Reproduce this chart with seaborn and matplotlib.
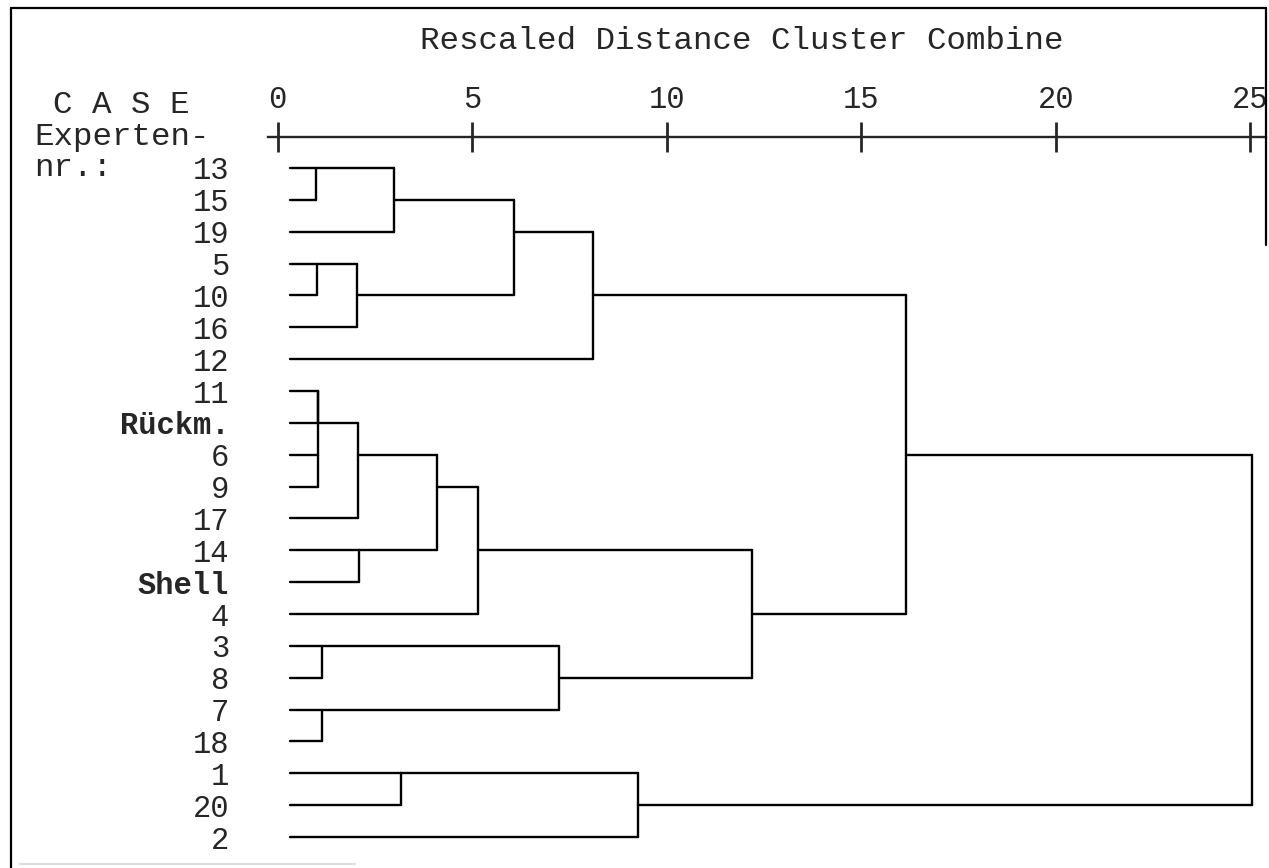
import numpy as np
import pandas as pd
import matplotlib
matplotlib.use("Agg")
import matplotlib.pyplot as plt
from matplotlib.lines import Line2D
import seaborn as sns

# Case labels, top to bottom (as in the SPSS dendrogram)
labels = ["13", "15", "19", "5", "10", "16", "12", "11", "Rückm.", "6", "9",
          "17", "14", "Shell", "4", "3", "8", "7", "18", "1", "20", "2"]
bold_labels = ["Rückm.", "Shell"]

# Agglomeration schedule: node ids 0..21 are cases, new clusters get 22, 23, ...
merge_left = [0, 3, 7, 9, 24, 15, 17, 23, 26, 12, 22, 19, 30, 34, 32, 27, 36, 33, 35, 38, 41]
merge_right = [1, 4, 8, 10, 25, 16, 18, 5, 11, 13, 2, 20, 31, 14, 29, 28, 6, 21, 37, 40, 39]
merge_dist = [0.99, 1.02, 1.04, 1.04, 1.04, 1.15, 1.15, 2.04, 2.07, 2.09, 2.99,
              3.18, 4.09, 5.14, 6.07, 7.22, 8.11, 9.27, 12.2, 16.16, 25.05]
leaf_start = 0.33

dist_ticks = [0, 5, 10, 15, 20, 25]

# build the dendrogram segments (SPSS style rows)
node_x = {i: leaf_start for i in range(len(labels))}
node_row = {i: i for i in range(len(labels))}
segs = []
for k, (a, b, d) in enumerate(zip(merge_left, merge_right, merge_dist)):
    new = len(labels) + k
    for c in (a, b):
        segs.append(([node_x[c], d], [node_row[c], node_row[c]]))
    segs.append(([d, d], [node_row[a], node_row[b]]))
    node_x[new] = d
    node_row[new] = (min(node_row[a], node_row[b]) + max(node_row[a], node_row[b])) // 2

rows = []
for i, (xs, ys) in enumerate(segs):
    for x, y in zip(xs, ys):
        rows.append({"seg": i, "x": x, "y": y})
df = pd.DataFrame(rows)

sns.set_style("white")
plt.rcParams["font.family"] = ["Liberation Mono", "DejaVu Sans Mono"]

W, H = 1269, 868
fig = plt.figure(figsize=(W / 100, H / 100), dpi=100)
fig.patch.set_facecolor("white")

# axes: top spine is the distance scale
ax_l, ax_r, ax_t = 268, 1266, 137
ax = fig.add_axes([ax_l / W, 0, (ax_r - ax_l) / W, 1 - ax_t / H])
px0, px25 = 277.6, 1250.4
ppu = (px25 - px0) / 25
ax.set_xlim(-(px0 - ax_l) / ppu, (ax_r - px0) / ppu)
row0, rowstep = 168, 31.86
ax.set_ylim((H - row0) / rowstep, -(row0 - ax_t) / rowstep)

sns.lineplot(data=df, x="x", y="y", units="seg", estimator=None, sort=False,
             color="black", lw=1.7, ax=ax, legend=False)

for s in ["left", "right", "bottom"]:
    ax.spines[s].set_visible(False)
ax.spines["top"].set_linewidth(1.7)
ax.xaxis.tick_top()
ax.set_xticks(dist_ticks)
ax.set_xticklabels([str(t) for t in dist_ticks], fontsize=22)
ax.tick_params(axis="x", direction="inout", length=22, width=2, pad=5)
ax.set_yticks(range(len(labels)))
ax.set_yticklabels(labels, fontsize=22)
ax.tick_params(axis="y", length=0, pad=28)
for t in ax.get_yticklabels():
    if t.get_text() in bold_labels:
        t.set_fontweight("bold")
ax.set_xlabel("")
ax.set_ylabel("")

fig.text(742 / W, 1 - 41 / H, "Rescaled Distance Cluster Combine",
         ha="center", va="center", fontsize=23.4)
fig.text(53 / W, 1 - 105 / H, "C A S E", ha="left", va="center", fontsize=23.4)
fig.text(34 / W, 1 - 137 / H, "Experten-", ha="left", va="center", fontsize=23.4)
fig.text(34 / W, 1 - row0 / H, "nr.:", ha="left", va="center", fontsize=23.4)

# frame of the printed output
fig.add_artist(Line2D([11 / W, 11 / W], [0, 1 - 8 / H], color="black", lw=1.6))
fig.add_artist(Line2D([11 / W, 1266 / W], [1 - 8 / H, 1 - 8 / H], color="black", lw=1.6))
fig.add_artist(Line2D([1266 / W, 1266 / W], [1 - 8 / H, 1 - 245 / H], color="black", lw=1.6))
fig.add_artist(Line2D([20 / W, 355 / W], [1 - 864 / H, 1 - 864 / H], color="#dddddd", lw=1.5))

fig.savefig("out.png", dpi=100, facecolor="white")
